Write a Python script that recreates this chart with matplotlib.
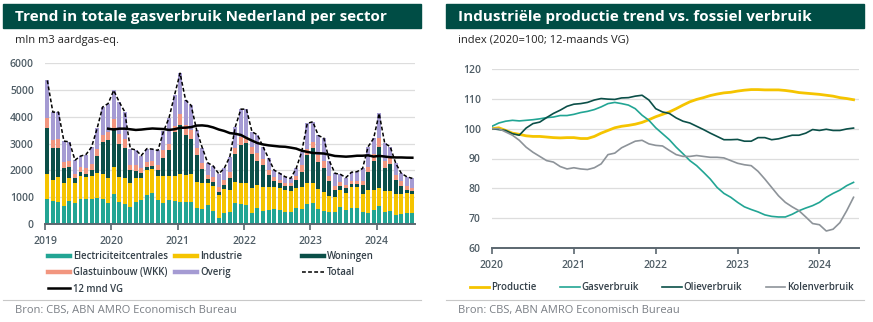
import numpy as np
import pandas as pd
import matplotlib
matplotlib.use("Agg")
import matplotlib.pyplot as plt
from matplotlib.patches import Rectangle
from matplotlib.lines import Line2D

# Gasverbruik per sector, mln m3 aardgas-eq., per maand jan 2019 - jul 2024
maanden = pd.date_range("2019-01-01", "2024-07-01", freq="MS")
elektriciteit = [930, 850, 810, 680, 850, 770, 920, 920, 950, 980, 950, 790,
                 1120, 830, 740, 620, 810, 880, 1090, 1170, 880, 800, 890, 870,
                 830, 830, 830, 580, 550, 720, 500, 220, 420, 460, 770, 730,
                 710, 400, 610, 480, 520, 560, 520, 460, 430, 610, 560, 730,
                 770, 560, 480, 430, 430, 650, 520, 610, 610, 430, 400, 520,
                 680, 430, 480, 340, 360, 400, 400]
industrie = [920, 790, 950, 830, 850, 770, 860, 840, 830, 930, 930, 930,
             1010, 930, 990, 890, 900, 830, 910, 880, 910, 1000, 910, 930,
             1020, 1010, 1030, 990, 990, 810, 900, 860, 870, 810, 780, 790,
             810, 930, 840, 910, 870, 830, 810, 810, 800, 720, 830, 790,
             750, 740, 700, 630, 590, 620, 620, 780, 780, 670, 870, 750,
             670, 800, 750, 760, 740, 740, 700]
woningen = [1740, 1200, 1080, 580, 430, 160, 170, 120, 230, 620, 1180, 1400,
            1430, 1240, 1110, 520, 280, 190, 130, 130, 220, 670, 950, 1620,
            1830, 1470, 1320, 1000, 510, 160, 170, 120, 180, 430, 1060, 1420,
            1490, 1270, 900, 810, 440, 210, 190, 150, 190, 310, 560, 1050,
            1300, 1020, 920, 540, 250, 160, 190, 90, 90, 350, 680, 1080,
            1530, 840, 990, 540, 330, 130, 130]
glastuinbouw = [360, 280, 340, 230, 210, 160, 160, 190, 210, 280, 250, 310,
                370, 370, 310, 160, 200, 170, 190, 150, 180, 280, 250, 230,
                430, 390, 320, 280, 220, 130, 170, 190, 180, 230, 210, 310,
                240, 280, 280, 220, 180, 160, 120, 120, 120, 160, 250, 230,
                220, 240, 250, 200, 160, 120, 120, 120, 120, 150, 190, 250,
                310, 280, 290, 190, 170, 160, 120]
overig = [1400, 1050, 990, 770, 720, 520, 420, 520, 650, 750, 1050, 1060,
          1050, 1180, 1030, 620, 570, 480, 490, 460, 550, 700, 950, 1150,
          1510, 920, 920, 650, 580, 460, 420, 480, 430, 580, 810, 1030,
          1030, 560, 690, 460, 440, 250, 250, 220, 160, 270, 500, 950,
          770, 740, 850, 550, 460, 300, 280, 330, 350, 470, 740, 590,
          930, 660, 370, 430, 290, 330, 350]

# Index 2020=100, 12-maands VG, jan 2020 - jun 2024
productie = [100.0, 100.3, 99.4, 98.5, 98.1, 97.6, 97.4, 97.4, 97.2, 97.0, 96.9, 97.0,
             97.0, 96.7, 96.7, 97.4, 98.5, 99.4, 100.3, 100.8, 101.1, 101.5, 102.1, 103.0,
             104.0, 104.8, 105.6, 106.7, 107.9, 109.0, 109.8, 110.4, 111.1, 111.6, 112.0, 112.2,
             112.6, 112.9, 113.1, 113.1, 113.0, 113.0, 113.0, 112.8, 112.5, 112.1, 111.9, 111.7,
             111.5, 111.2, 110.9, 110.4, 110.1, 109.7]
gas = [100.8, 101.9, 102.5, 102.8, 102.6, 102.8, 103.0, 103.3, 103.7, 103.9, 104.4, 104.4,
       104.8, 105.4, 105.8, 106.4, 107.3, 108.4, 108.8, 108.4, 107.9, 106.7, 104.5, 102.8,
       100.3, 98.3, 96.3, 93.8, 91.6, 89.3, 87.6, 85.4, 83.1, 80.3, 78.3, 77.0,
       75.3, 73.8, 72.9, 72.1, 71.1, 70.6, 70.4, 70.4, 71.3, 72.5, 73.4, 74.2,
       75.3, 77.0, 78.3, 79.4, 80.9, 82.0]
olie = [100.0, 99.7, 99.4, 98.3, 97.8, 100.2, 101.7, 102.2, 103.7, 105.1, 106.2, 107.5,
        108.2, 108.4, 108.8, 109.6, 110.1, 109.9, 109.8, 110.3, 110.4, 110.9, 111.2, 109.6,
        106.7, 105.6, 105.1, 103.6, 102.5, 101.9, 100.8, 99.7, 98.5, 97.4, 96.3, 96.3,
        96.4, 95.8, 95.8, 97.0, 97.0, 96.3, 96.6, 97.2, 97.8, 97.8, 98.5, 99.7,
        99.4, 99.8, 99.4, 99.4, 99.9, 100.2]
kolen = [100.0, 100.0, 98.9, 97.8, 96.1, 93.8, 92.1, 90.7, 89.3, 88.8, 87.3, 86.5,
         86.9, 86.5, 86.3, 86.9, 88.2, 91.3, 91.8, 93.6, 94.7, 95.8, 96.1, 94.9,
         94.4, 94.2, 92.7, 91.3, 90.7, 90.7, 91.0, 90.7, 90.4, 90.4, 90.2, 89.3,
         88.4, 87.9, 87.6, 85.7, 83.1, 80.3, 77.5, 75.3, 73.8, 72.5, 70.4, 68.2,
         67.8, 65.7, 66.3, 68.5, 72.5, 77.0]

jaren_links = ["2019", "2020", "2021", "2022", "2023", "2024"]
jaren_rechts = ["2020", "2021", "2022", "2023", "2024"]

# kleuren
GROEN_DONKER = "#004d45"
C_ELEK = "#22a594"
C_IND = "#f5c400"
C_WON = "#0b4f48"
C_GLAS = "#f2967f"
C_OVER = "#a59bd3"
C_KOLEN = "#8d9399"
TEKST = "#4f5d66"
GRID = "#dddddd"

plt.rcParams["font.family"] = ["Open Sans", "DejaVu Sans"]

W, H = 873, 322
fig = plt.figure(figsize=(W / 100, H / 100), dpi=100)


def fx(px):
    return px / W


def fy(py):
    return 1 - py / H


# titelbalken, ondertitels, bronregels
for x0, x1, titel, sub in [(3, 421, "Trend in totale gasverbruik Nederland per sector", "mln m3 aardgas-eq."),
                           (446, 864, "Industriële productie trend vs. fossiel verbruik", "index (2020=100; 12-maands VG)")]:
    fig.patches.append(Rectangle((fx(x0), fy(28)), fx(x1 - x0), 24 / H, transform=fig.transFigure,
                                 color=GROEN_DONKER, zorder=0))
    fig.text(fx(x0 + 12), fy(16.5), titel, color="white", fontsize=11, fontweight="bold", va="center")
    fig.text(fx(x0 + 12), fy(40), sub, color="#222222", fontsize=8, va="center")
    fig.lines.append(Line2D([fx(x0), fx(x1)], [fy(300), fy(300)], transform=fig.transFigure,
                            color="#c8c8c8", lw=0.8))
    fig.text(fx(x0 + 12), fy(311), "Bron: CBS, ABN AMRO Economisch Bureau", color="#7a7f85",
             fontsize=8, va="center")


def opmaak(ax):
    for s in ["top", "right", "left"]:
        ax.spines[s].set_visible(False)
    ax.spines["bottom"].set_color("#5b6770")
    ax.spines["bottom"].set_linewidth(1.4)
    ax.tick_params(axis="y", length=0, pad=8, labelsize=7.5, labelcolor=TEKST)
    ax.tick_params(axis="x", length=4, width=1.2, color="#5b6770", pad=5, labelsize=7.5, labelcolor=TEKST)
    for lab in ax.get_xticklabels() + ax.get_yticklabels():
        lab.set_fontweight("semibold")
    ax.grid(axis="y", color=GRID, lw=0.9)
    ax.set_axisbelow(True)


# --- links: gestapelde staven per sector ---
ax1 = fig.add_axes([fx(45), fy(224), fx(370), 161 / H])
x = np.arange(len(maanden))
series = [(elektriciteit, C_ELEK, "Electriciteitcentrales"),
          (industrie, C_IND, "Industrie"),
          (woningen, C_WON, "Woningen"),
          (glastuinbouw, C_GLAS, "Glastuinbouw (WKK)"),
          (overig, C_OVER, "Overig")]
bodem = np.zeros(len(x))
for waarden, kleur, naam in series:
    ax1.bar(x + 0.06, waarden, width=0.72, bottom=bodem, align="edge", color=kleur, linewidth=0, label=naam)
    bodem = bodem + np.array(waarden)
totaal = pd.Series(bodem, index=maanden)
vg12 = totaal.rolling(12).mean()
ax1.plot(x + 0.42, totaal.values, color="black", lw=1.1, dashes=(2.5, 1.5), label="Totaal")
ax1.plot(x + 0.42, vg12.values, color="black", lw=1.8, label="12 mnd VG")
ax1.set_xlim(0, 66.9)
ax1.set_ylim(0, 6000)
ax1.set_yticks(np.arange(0, 6001, 1000))
ax1.set_xticks(np.arange(0, 61, 12))
ax1.set_xticklabels(jaren_links)
opmaak(ax1)


# legenda links in drie kolommen
def sym(kleur, lw=3.2):
    return Line2D([], [], color=kleur, lw=lw)


kolommen = [(48, [(sym(C_ELEK), "Electriciteitcentrales"), (sym(C_GLAS), "Glastuinbouw (WKK)"),
                  (sym("black", 1.8), "12 mnd VG")]),
            (175, [(sym(C_IND), "Industrie"), (sym(C_OVER), "Overig")]),
            (302, [(sym(C_WON), "Woningen"), (Line2D([], [], color="black", lw=1.1, dashes=(2.5, 1.5)), "Totaal")])]
for xpos, items in kolommen:
    leg = fig.legend([i[0] for i in items], [i[1] for i in items], loc="upper left",
                     bbox_to_anchor=(fx(xpos), fy(251)), frameon=False, fontsize=6.9,
                     handlelength=2.3, handletextpad=0.3, labelspacing=0.55, borderpad=0, borderaxespad=0)
    for t in leg.get_texts():
        t.set_color("#333f48")
        t.set_fontweight("semibold")

# --- rechts: productie vs fossiel verbruik ---
ax2 = fig.add_axes([fx(492), fy(248), fx(367), 179 / H])
xm = np.arange(len(productie))
ax2.plot(xm, productie, color=C_IND, lw=2.0, label="Productie")
ax2.plot(xm, gas, color=C_ELEK, lw=1.2, label="Gasverbruik")
ax2.plot(xm, olie, color=C_WON, lw=1.2, label="Olieverbruik")
ax2.plot(xm, kolen, color=C_KOLEN, lw=1.2, label="Kolenverbruik")
ax2.set_xlim(0, 53.8)
ax2.set_ylim(60, 120)
ax2.set_yticks(np.arange(60, 121, 10))
ax2.set_xticks(np.arange(0, 49, 12))
ax2.set_xticklabels(jaren_rechts)
opmaak(ax2)
leg2 = fig.legend(loc="center left", bbox_to_anchor=(fx(470), fy(288)), ncol=4, frameon=False, fontsize=7,
                  handlelength=2.0, handletextpad=0.2, columnspacing=2.4, borderpad=0, borderaxespad=0,
                  handles=ax2.get_lines())
for t in leg2.get_texts():
    t.set_color("#333f48")
    t.set_fontweight("semibold")

fig.savefig("out.png", dpi=100)
